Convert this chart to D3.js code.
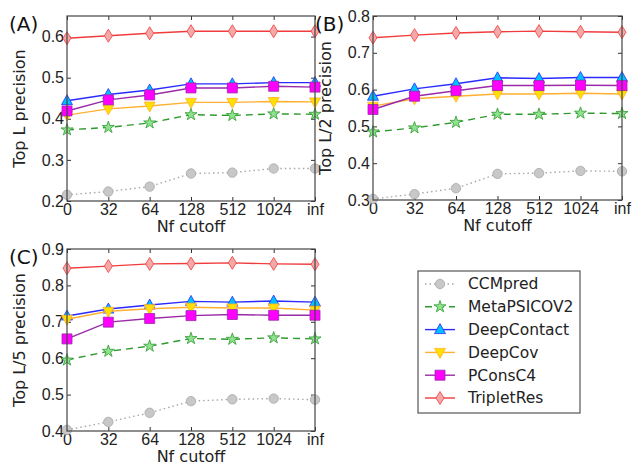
<!DOCTYPE html>
<html>
<head>
<meta charset="utf-8">
<script src="https://cdn.jsdelivr.net/npm/d3@7"></script>
<style>
  body { margin: 0; background: #fff; }
  svg { font-family: "DejaVu Sans", sans-serif; }
</style>
</head>
<body>
<svg id="chart" width="634" height="472"></svg>
<script>
const cutoffs = ['0', '32', '64', '128', '512', '1024', 'inf'];
const methods = ['CCMpred', 'MetaPSICOV2', 'DeepContact', 'DeepCov', 'PConsC4', 'TripletRes'];

// Top L precision
const topL = {
    CCMpred:     [0.215, 0.223, 0.235, 0.267, 0.269, 0.279, 0.279],
    MetaPSICOV2: [0.373, 0.379, 0.390, 0.410, 0.408, 0.412, 0.411],
    DeepContact: [0.444, 0.459, 0.470, 0.485, 0.485, 0.488, 0.488],
    DeepCov:     [0.409, 0.424, 0.431, 0.440, 0.440, 0.442, 0.441],
    PConsC4:     [0.419, 0.446, 0.458, 0.475, 0.475, 0.479, 0.477],
    TripletRes:  [0.596, 0.602, 0.608, 0.613, 0.613, 0.613, 0.613]
};
// Top L/2 precision
const topL2 = {
    CCMpred:     [0.303, 0.316, 0.332, 0.371, 0.373, 0.379, 0.378],
    MetaPSICOV2: [0.485, 0.496, 0.511, 0.533, 0.533, 0.536, 0.535],
    DeepContact: [0.582, 0.602, 0.616, 0.632, 0.630, 0.633, 0.633],
    DeepCov:     [0.555, 0.575, 0.582, 0.588, 0.588, 0.590, 0.588],
    PConsC4:     [0.546, 0.582, 0.597, 0.611, 0.611, 0.612, 0.611],
    TripletRes:  [0.741, 0.748, 0.754, 0.757, 0.759, 0.757, 0.756]
};
// Top L/5 precision
const topL5 = {
    CCMpred:     [0.403, 0.425, 0.450, 0.482, 0.487, 0.489, 0.486],
    MetaPSICOV2: [0.595, 0.619, 0.633, 0.654, 0.652, 0.656, 0.653],
    DeepContact: [0.716, 0.735, 0.746, 0.756, 0.754, 0.757, 0.754],
    DeepCov:     [0.707, 0.729, 0.736, 0.740, 0.738, 0.738, 0.732],
    PConsC4:     [0.653, 0.699, 0.709, 0.717, 0.720, 0.718, 0.718],
    TripletRes:  [0.847, 0.853, 0.859, 0.860, 0.862, 0.859, 0.858]
};

const style = {
    CCMpred:     {line: '#a8a8a8', fill: '#c8c8c8', edge: '#a8a8a8', dash: '1.5,3', marker: 'circle'},
    MetaPSICOV2: {line: '#2e9a2e', fill: '#8fe38f', edge: '#2e9a2e', dash: '7,5', marker: 'star'},
    DeepContact: {line: '#2b2bff', fill: '#00c0ff', edge: '#2b2bff', dash: null, marker: 'triangle'},
    DeepCov:     {line: '#ffb030', fill: '#ffe000', edge: '#ffb030', dash: null, marker: 'triangleDown'},
    PConsC4:     {line: '#9a2aa8', fill: '#ff00ff', edge: '#9a2aa8', dash: null, marker: 'square'},
    TripletRes:  {line: '#f03c3c', fill: '#f5a8a8', edge: '#f03c3c', dash: null, marker: 'diamond'}
};

const fontSize = '16px';
const svg = d3.select('#chart');

function markerPath(type) {
    switch (type) {
        case 'circle': return d3.symbol(d3.symbolCircle, 70)();
        case 'star': return d3.symbol(d3.symbolStar, 45)();
        case 'triangle': return 'M0,-6L5.5,4L-5.5,4Z';
        case 'triangleDown': return 'M0,6L5.5,-4L-5.5,-4Z';
        case 'square': return 'M-5,-5H5V5H-5Z';
        case 'diamond': return 'M0,-6.5L4,0L0,6.5L-4,0Z';
    }
}

function panel(data, box, domain, tickVals, ylabel, tag) {
    const x = d3.scalePoint()
        .domain(cutoffs)
        .range([box.x0, box.x1]);
    const y = d3.scaleLinear()
        .domain(domain)
        .range([box.y1, box.y0]);

    const g = svg.append('g');

    // ticks inside on all four sides
    g.append('g')
        .attr('transform', `translate(0, ${box.y1})`)
        .call(d3.axisBottom(x).tickSizeInner(-4).tickSizeOuter(0).tickPadding(3))
        .call(a => a.select('.domain').remove())
        .selectAll('text').style('font-size', fontSize).attr('fill', '#222');
    g.append('g')
        .attr('transform', `translate(0, ${box.y0})`)
        .call(d3.axisTop(x).tickSizeInner(-4).tickSizeOuter(0).tickFormat(''))
        .call(a => a.select('.domain').remove());
    g.append('g')
        .attr('transform', `translate(${box.x0}, 0)`)
        .call(d3.axisLeft(y).tickValues(tickVals).tickFormat(d3.format('.1f')).tickSizeInner(-4).tickSizeOuter(0).tickPadding(3))
        .call(a => a.select('.domain').remove())
        .selectAll('text').style('font-size', fontSize).attr('fill', '#222');
    g.append('g')
        .attr('transform', `translate(${box.x1}, 0)`)
        .call(d3.axisRight(y).tickValues(tickVals).tickSizeInner(-4).tickSizeOuter(0).tickFormat(''))
        .call(a => a.select('.domain').remove());
    g.selectAll('.tick line').attr('stroke', '#333');

    const line = d3.line()
        .x((d, i) => x(cutoffs[i]))
        .y(d => y(d));

    methods.forEach(function(m) {
        const s = style[m];
        g.append('path')
            .datum(data[m])
            .attr('fill', 'none')
            .attr('stroke', s.line)
            .attr('stroke-width', 1.4)
            .attr('stroke-dasharray', s.dash)
            .attr('d', line);
        g.selectAll(null)
            .data(data[m])
            .enter()
            .append('path')
            .attr('transform', (d, i) => `translate(${x(cutoffs[i])}, ${y(d)})`)
            .attr('d', markerPath(s.marker))
            .attr('fill', s.fill)
            .attr('stroke', s.edge)
            .attr('stroke-width', 0.8);
    });

    g.append('rect')
        .attr('x', box.x0)
        .attr('y', box.y0)
        .attr('width', box.x1 - box.x0)
        .attr('height', box.y1 - box.y0)
        .attr('fill', 'none')
        .attr('stroke', '#444')
        .attr('stroke-width', 1.2);

    g.append('text')
        .attr('transform', `translate(${box.x0 - 42}, ${(box.y0 + box.y1) / 2}) rotate(-90)`)
        .attr('text-anchor', 'middle')
        .style('font-size', fontSize)
        .attr('fill', '#222')
        .text(ylabel);
    g.append('text')
        .attr('x', (box.x0 + box.x1) / 2)
        .attr('y', box.y1 + 31)
        .attr('text-anchor', 'middle')
        .style('font-size', fontSize)
        .attr('fill', '#222')
        .text('Nf cutoff');
    g.append('text')
        .attr('x', box.x0 - 58)
        .attr('y', box.y0 + 15)
        .style('font-size', '20px')
        .attr('fill', '#111')
        .text(tag);
}

panel(topL,  {x0: 67, x1: 315, y0: 16, y1: 201}, [0.2, 0.65], [0.2, 0.3, 0.4, 0.5, 0.6], 'Top L precision', '(A)');
panel(topL2, {x0: 373, x1: 622, y0: 16, y1: 200}, [0.3, 0.8], [0.3, 0.4, 0.5, 0.6, 0.7, 0.8], 'Top L/2 precision', '(B)');
panel(topL5, {x0: 67, x1: 315, y0: 249, y1: 431}, [0.4, 0.9], [0.4, 0.5, 0.6, 0.7, 0.8, 0.9], 'Top L/5 precision', '(C)');

// legend
const legend = svg.append('g');
legend.append('rect')
    .attr('x', 418).attr('y', 271)
    .attr('width', 162).attr('height', 142)
    .attr('fill', '#fff')
    .attr('stroke', '#555')
    .attr('stroke-width', 1.2);
methods.forEach(function(m, i) {
    const s = style[m];
    const yy = 284 + i * 22.8;
    legend.append('line')
        .attr('x1', 425).attr('x2', 455)
        .attr('y1', yy).attr('y2', yy)
        .attr('stroke', s.line)
        .attr('stroke-width', 1.4)
        .attr('stroke-dasharray', s.dash);
    legend.append('path')
        .attr('transform', `translate(440, ${yy})`)
        .attr('d', markerPath(s.marker))
        .attr('fill', s.fill)
        .attr('stroke', s.edge)
        .attr('stroke-width', 0.8);
    legend.append('text')
        .attr('x', 468).attr('y', yy)
        .attr('dy', '0.35em')
        .style('font-size', '15.5px')
        .attr('fill', '#222')
        .text(m);
});
</script>
</body>
</html>
